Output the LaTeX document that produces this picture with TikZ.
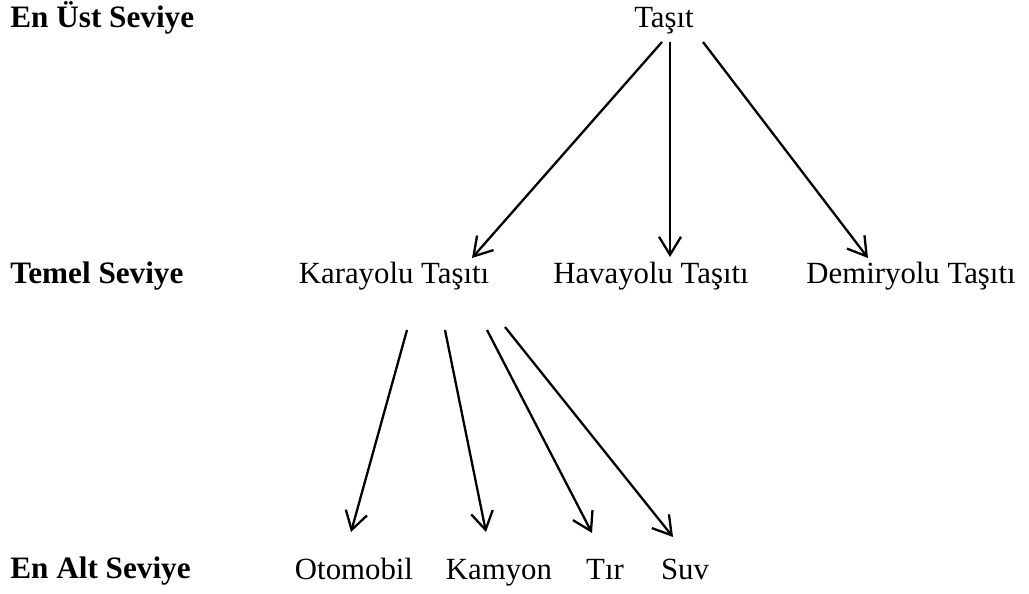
\documentclass[tikz,border=0pt]{standalone}
\usepackage{fontspec}
\setmainfont{Liberation Serif}
\usetikzlibrary{arrows.meta}
\begin{document}
\begin{tikzpicture}[x=0.5pt,y=-0.5pt,
  lbl/.style={inner sep=0pt,anchor=base west,font=\fontsize{15.6}{18}\selectfont\bfseries},
  itm/.style={inner sep=0pt,anchor=base,font=\fontsize{15.4}{18}\selectfont},
  arr/.style={line width=1.15pt,-{Straight Barb[length=9pt,width=11pt,line width=1.15pt]}}]
\useasboundingbox (0,0) rectangle (1029,594);
% level labels
\node[lbl] (l1) at (10,27) {En Üst Seviye};
\node[lbl] (l2) at (10,283) {Temel Seviye};
\node[lbl] (l3) at (10,578) {En Alt Seviye};
% items
\node[itm] (tasit) at (664,27) {Taşıt};
\node[itm] (kara) at (394,283) {Karayolu Taşıtı};
\node[itm] (hava) at (651,283) {Havayolu Taşıtı};
\node[itm] (demir) at (911,283) {Demiryolu Taşıtı};
\node[itm] (oto) at (354,579) {Otomobil};
\node[itm] (kam) at (499,579) {Kamyon};
\node[itm] (tir) at (605,579) {Tır};
\node[itm] (suv) at (685,579) {Suv};
% arrows
\draw[arr] ([shift={(-2,15)}]tasit.base) -- ([shift={(78,-25)}]kara.base);
\draw[arr] ([shift={(6,15)}]tasit.base) -- ([shift={(19,-26)}]hava.base);
\draw[arr] ([shift={(39,15)}]tasit.base) -- ([shift={(-43,-25)}]demir.base);
\draw[arr] ([shift={(13,47)}]kara.base) -- ([shift={(-3,-47)}]oto.base);
\draw[arr] ([shift={(51,47)}]kara.base) -- ([shift={(-13,-47)}]kam.base);
\draw[arr] ([shift={(93,47)}]kara.base) -- ([shift={(-13,-46)}]tir.base);
\draw[arr] ([shift={(111,44)}]kara.base) -- ([shift={(-12,-42)}]suv.base);
\end{tikzpicture}
\end{document}
